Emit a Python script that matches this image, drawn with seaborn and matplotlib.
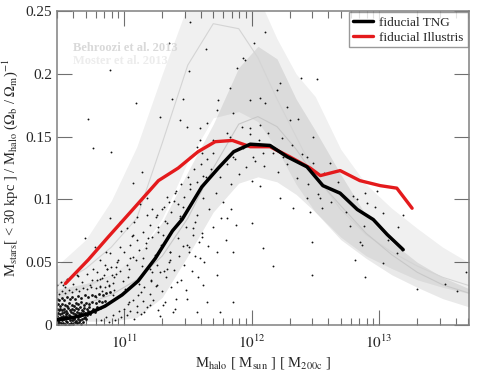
import numpy as np
import pandas as pd
import matplotlib
matplotlib.use("Agg")
import matplotlib.pyplot as plt
import seaborn as sns
from matplotlib.ticker import FixedLocator, LogLocator, NullFormatter

# ---------------- data ----------------
# fiducial TNG median (log10 M_halo, ratio)
tng_logm = [10.46, 10.60, 10.72, 10.85, 10.985, 11.11, 11.245, 11.38, 11.455, 11.61,
            11.74, 11.86, 11.99, 12.145, 12.28, 12.435, 12.56, 12.695, 12.83, 12.955,
            13.065, 13.19]
tng_ratio = [0.004, 0.006, 0.009, 0.015, 0.024, 0.035, 0.053, 0.075, 0.084, 0.110,
             0.125, 0.138, 0.144, 0.143, 0.134, 0.126, 0.111, 0.105, 0.092, 0.084,
             0.072, 0.060]

# fiducial Illustris median
ill_logm = [10.54, 10.72, 10.875, 11.06, 11.27, 11.425, 11.58, 11.715, 11.85, 11.99,
            12.145, 12.30, 12.46, 12.54, 12.695, 12.85, 13.01, 13.14, 13.26]
ill_ratio = [0.033, 0.052, 0.070, 0.091, 0.115, 0.125, 0.138, 0.146, 0.147, 0.142,
             0.142, 0.134, 0.125, 0.119, 0.123, 0.115, 0.111, 0.109, 0.093]

# abundance-matching bands
band_logm = [10.45, 10.7, 10.9, 11.1, 11.3, 11.5, 11.7, 11.9, 12.05, 12.2, 12.35,
             12.5, 12.7, 12.9, 13.1, 13.3, 13.5, 13.75]
moster_hi = [0.045, 0.068, 0.099, 0.142, 0.200, 0.255, 0.290, 0.285, 0.262, 0.228, 0.200,
             0.182, 0.140, 0.112, 0.093, 0.077, 0.062, 0.047]
moster_mid = [0.030, 0.045, 0.062, 0.085, 0.145, 0.207, 0.240, 0.236, 0.213, 0.180, 0.150,
              0.120, 0.092, 0.072, 0.058, 0.047, 0.038, 0.030]
moster_lo = [0.020, 0.030, 0.040, 0.055, 0.085, 0.130, 0.165, 0.170, 0.162, 0.140, 0.112,
             0.090, 0.070, 0.055, 0.045, 0.036, 0.030, 0.024]
behroozi_hi = [0.028, 0.033, 0.040, 0.055, 0.082, 0.122, 0.160, 0.205, 0.222, 0.212, 0.180,
               0.155, 0.120, 0.087, 0.066, 0.050, 0.038, 0.027]
behroozi_mid = [0.012, 0.017, 0.024, 0.036, 0.055, 0.085, 0.125, 0.160, 0.166, 0.158, 0.140,
                0.118, 0.095, 0.073, 0.056, 0.042, 0.032, 0.024]
behroozi_lo = [0.003, 0.003, 0.003, 0.006, 0.022, 0.055, 0.090, 0.113, 0.118, 0.114, 0.104,
               0.090, 0.068, 0.053, 0.040, 0.030, 0.021, 0.013]

# individual galaxies: sparse outliers
gal_logm = [11.518, 11.644, 11.353, 10.891, 11.51, 11.095, 11.377, 11.463, 10.718, 10.757,
            10.899, 11.283, 11.142, 11.071, 11.44, 11.495, 11.597, 11.651, 11.573, 11.612,
            11.698, 11.73, 11.738, 11.832, 11.855, 11.808, 11.887, 11.597, 11.518, 11.698,
            11.832, 11.855, 12.107, 12.02, 11.934, 11.95, 12.389, 12.514, 12.224, 12.2,
            12.067, 12.107, 11.989, 12.279, 12.302, 12.365, 12.483, 11.989, 12.067, 11.926,
            12.091, 12.248, 12.436, 12.616, 12.012, 12.067, 12.004, 12.004, 12.091, 12.169,
            12.475, 12.475, 12.224, 12.326, 12.436, 12.538, 12.554, 12.459, 12.773, 12.852,
            12.867, 12.812, 12.891, 13.032, 13.142, 13.181, 13.189, 12.985, 12.891, 12.828,
            12.906, 13.299, 13.518, 13.612, 13.683, 13.032,
            10.695, 10.773, 10.632, 10.553, 10.522, 10.891, 10.969, 11.024, 11.071, 11.126,
            11.181, 11.259, 11.306, 11.361, 11.44, 11.542, 11.495, 11.597, 11.62, 11.73,
            11.808, 11.855, 11.651, 11.573, 11.753, 11.855, 11.385, 11.306, 11.204, 11.102,
            11.495, 11.416, 11.259, 11.338, 11.204, 11.149, 11.047, 10.946, 10.867, 10.812,
            10.734]
gal_ratio = [0.241, 0.220, 0.225, 0.203, 0.202, 0.177, 0.180, 0.180, 0.164, 0.141,
             0.138, 0.166, 0.122, 0.113, 0.163, 0.158, 0.157, 0.161, 0.142, 0.137,
             0.137, 0.171, 0.179, 0.189, 0.169, 0.153, 0.205, 0.147, 0.134, 0.147,
             0.150, 0.134, 0.233, 0.225, 0.213, 0.211, 0.197, 0.196, 0.193, 0.187,
             0.181, 0.177, 0.179, 0.174, 0.163, 0.164, 0.150, 0.157, 0.159, 0.158,
             0.137, 0.134, 0.134, 0.129, 0.134, 0.111, 0.115, 0.081, 0.061, 0.047,
             0.066, 0.040, 0.101, 0.093, 0.101, 0.101, 0.093, 0.090, 0.079, 0.066,
             0.064, 0.052, 0.038, 0.049, 0.057, 0.060, 0.088, 0.107, 0.105, 0.100,
             0.097, 0.029, 0.033, 0.027, 0.042, 0.089,
             0.069, 0.062, 0.040, 0.037, 0.032, 0.085, 0.082, 0.077, 0.072, 0.096,
             0.101, 0.088, 0.072, 0.058, 0.085, 0.077, 0.064, 0.053, 0.032, 0.040,
             0.085, 0.058, 0.018, 0.010, 0.010, 0.018, 0.010, 0.016, 0.016, 0.010,
             0.021, 0.034, 0.032, 0.045, 0.045, 0.053, 0.053, 0.050, 0.045, 0.037,
             0.032]

# individual galaxies: crowded low-mass blob
blob_logm = [
    10.462, 10.478, 10.493, 10.507, 10.521, 10.538, 10.551, 10.566, 10.583, 10.597, 10.612, 10.629, 10.644, 10.659, 10.676,
    10.468, 10.485, 10.499, 10.514, 10.529, 10.544, 10.559, 10.574, 10.590, 10.604, 10.621, 10.636, 10.651, 10.668, 10.684, 10.701,
    10.463, 10.474, 10.489, 10.503, 10.518, 10.533, 10.548, 10.563, 10.579, 10.594, 10.609, 10.625, 10.640, 10.656, 10.671, 10.690, 10.712, 10.735,
    10.466, 10.482, 10.496, 10.511, 10.526, 10.541, 10.556, 10.571, 10.586, 10.601, 10.617, 10.632, 10.648, 10.663, 10.680, 10.697, 10.720, 10.748, 10.772,
    10.471, 10.486, 10.501, 10.516, 10.531, 10.546, 10.561, 10.577, 10.592, 10.607, 10.622, 10.638, 10.654, 10.670, 10.688, 10.706, 10.729, 10.760, 10.785, 10.810,
    10.464, 10.481, 10.499, 10.517, 10.536, 10.553, 10.570, 10.588, 10.605, 10.623, 10.641, 10.660, 10.682, 10.703, 10.727, 10.752, 10.778, 10.800, 10.825, 10.850,
    10.473, 10.492, 10.512, 10.532, 10.552, 10.573, 10.595, 10.617, 10.640, 10.665, 10.690, 10.718, 10.745, 10.775, 10.805, 10.835, 10.862, 10.890,
]
blob_ratio = [
    0.0015, 0.0008, 0.0022, 0.0012, 0.0018, 0.0006, 0.0025, 0.0011, 0.0019, 0.0009, 0.0021, 0.0014, 0.0027, 0.0010, 0.0023,
    0.0042, 0.0035, 0.0049, 0.0038, 0.0045, 0.0031, 0.0052, 0.0040, 0.0036, 0.0047, 0.0033, 0.0050, 0.0039, 0.0044, 0.0058, 0.0046,
    0.0063, 0.0071, 0.0058, 0.0067, 0.0074, 0.0061, 0.0069, 0.0056, 0.0072, 0.0065, 0.0059, 0.0076, 0.0062, 0.0070, 0.0081, 0.0066, 0.0078, 0.0085,
    0.0091, 0.0098, 0.0086, 0.0094, 0.0102, 0.0088, 0.0096, 0.0083, 0.0101, 0.0092, 0.0087, 0.0105, 0.0093, 0.0099, 0.0110, 0.0095, 0.0108, 0.0115, 0.0102,
    0.0124, 0.0117, 0.0131, 0.0120, 0.0127, 0.0114, 0.0135, 0.0122, 0.0129, 0.0118, 0.0133, 0.0125, 0.0140, 0.0121, 0.0136, 0.0128, 0.0143, 0.0131, 0.0147, 0.0139,
    0.0158, 0.0166, 0.0152, 0.0171, 0.0160, 0.0149, 0.0175, 0.0163, 0.0155, 0.0178, 0.0165, 0.0181, 0.0162, 0.0177, 0.0169, 0.0185, 0.0172, 0.0190, 0.0180, 0.0195,
    0.0205, 0.0197, 0.0213, 0.0201, 0.0221, 0.0208, 0.0226, 0.0210, 0.0230, 0.0215, 0.0236, 0.0222, 0.0241, 0.0229, 0.0248, 0.0235, 0.0255, 0.0262,
]

# individual galaxies: main locus
cloud_logm = [
    10.466, 10.488, 10.513, 10.540, 10.566, 10.592, 10.620, 10.650, 10.680, 10.712, 10.744, 10.780, 10.815, 10.850, 10.880, 10.910,
    10.476, 10.505, 10.535, 10.567, 10.600, 10.635, 10.672, 10.708, 10.750, 10.790, 10.830, 10.870, 10.905, 10.940,
    10.82, 10.86, 10.88, 10.91, 10.93, 10.96, 10.98, 11.00, 11.02, 11.03, 11.05, 11.07, 11.08, 11.10, 11.11, 11.13, 11.15,
    11.16, 11.18, 11.20, 11.21, 11.23, 11.25, 11.27, 11.28, 11.30, 11.32, 11.33, 11.35, 11.37, 11.39, 11.41, 11.43, 11.45,
    11.47, 11.49, 11.51, 11.53, 11.56, 11.58, 11.61, 11.63, 11.66, 11.70, 11.73, 11.76, 11.80, 11.84, 11.88,
    10.81, 10.84, 10.87, 10.90, 10.92, 10.95, 10.97, 11.00, 11.02, 11.05, 11.07, 11.10, 11.12, 11.15, 11.17, 11.20, 11.22,
    11.25, 11.27, 11.30, 11.32, 11.35, 11.37, 11.40, 11.42, 11.45, 11.47, 11.50, 11.52, 11.55, 11.57, 11.60, 11.62, 11.65, 11.68,
    11.72, 11.75, 11.78, 11.81, 11.84, 11.87, 11.90, 11.93, 11.96, 11.99, 12.03, 12.06, 12.10, 12.13, 12.17, 12.21, 12.24,
    12.28, 12.32, 12.36, 12.40, 12.44, 12.48, 12.52, 12.57, 12.62, 12.68, 12.74, 12.80, 12.88, 12.97, 13.07, 13.15,
    10.78, 10.83, 10.79, 10.88, 10.85, 10.91, 10.94, 10.89, 10.99, 10.97, 11.01, 11.04, 11.06, 11.03, 11.09, 11.12, 11.08,
    11.14, 11.17, 11.13, 11.19, 11.22, 11.18, 11.24, 11.27, 11.21, 11.29, 11.31, 11.26, 11.34, 11.36, 11.31, 11.39, 11.42,
    11.36, 11.44, 11.46, 11.41, 11.49, 11.51, 11.46, 11.54, 11.57, 11.52, 11.59, 11.62, 11.56, 11.64, 11.67, 11.61,
    10.76, 10.81, 10.86, 10.92, 10.98, 11.04, 11.10, 11.16, 11.22, 11.28, 11.34, 11.40,
]
cloud_ratio = [
    0.0262, 0.0248, 0.0270, 0.0255, 0.0281, 0.0266, 0.0290, 0.0274, 0.0296, 0.0283, 0.0305, 0.0292, 0.0314, 0.0300, 0.0322, 0.0335,
    0.0318, 0.0345, 0.0302, 0.0365, 0.0330, 0.0388, 0.0342, 0.0405, 0.0358, 0.0420, 0.0372, 0.0445, 0.0395, 0.0465,
    0.004, 0.006, 0.002, 0.008, 0.004, 0.011, 0.006, 0.013, 0.008, 0.017, 0.011, 0.020, 0.005, 0.015, 0.024, 0.009, 0.019,
    0.030, 0.014, 0.025, 0.036, 0.020, 0.031, 0.012, 0.042, 0.027, 0.018, 0.038, 0.050, 0.030, 0.044, 0.021, 0.055, 0.036,
    0.048, 0.028, 0.062, 0.043, 0.055, 0.038, 0.070, 0.050, 0.063, 0.078, 0.058, 0.085, 0.068, 0.092, 0.080,
    0.030, 0.040, 0.035, 0.046, 0.038, 0.052, 0.043, 0.058, 0.048, 0.064, 0.054, 0.068, 0.060, 0.074, 0.065, 0.080, 0.070,
    0.086, 0.078, 0.092, 0.083, 0.098, 0.090, 0.105, 0.096, 0.112, 0.102, 0.118, 0.108, 0.124, 0.114, 0.128, 0.119, 0.132, 0.124,
    0.105, 0.118, 0.098, 0.128, 0.112, 0.132, 0.120, 0.141, 0.126, 0.152, 0.131, 0.147, 0.127, 0.153, 0.137, 0.122, 0.149,
    0.128, 0.143, 0.117, 0.136, 0.112, 0.129, 0.104, 0.121, 0.098, 0.114, 0.090, 0.103, 0.079, 0.094, 0.068, 0.078,
    0.022, 0.027, 0.036, 0.031, 0.048, 0.024, 0.041, 0.057, 0.035, 0.062, 0.029, 0.045, 0.071, 0.038, 0.052, 0.033, 0.082,
    0.047, 0.061, 0.026, 0.069, 0.042, 0.088, 0.056, 0.074, 0.035, 0.064, 0.094, 0.048, 0.081, 0.058, 0.043, 0.099, 0.069,
    0.052, 0.087, 0.063, 0.107, 0.078, 0.058, 0.094, 0.072, 0.088, 0.112, 0.066, 0.101, 0.082, 0.118, 0.092, 0.073,
    0.045, 0.052, 0.058, 0.028, 0.075, 0.018, 0.086, 0.010, 0.092, 0.007, 0.102, 0.013,
]

y_ticks = [0, 0.05, 0.1, 0.15, 0.2, 0.25]
y_ticklabels = ["0", "0.05", "0.1", "0.15", "0.2", "0.25"]
x_ticks_exp = [11, 12, 13]

# ---------------- style ----------------
sns.set_style("ticks")
plt.rcParams["font.family"] = ["Liberation Serif", "DejaVu Serif"]
plt.rcParams["mathtext.fontset"] = "stix"
plt.rcParams["axes.edgecolor"] = "#808080"
plt.rcParams["axes.linewidth"] = 1.1

fig = plt.figure(figsize=(4.8, 3.71), dpi=100)
ax = fig.add_axes([0.119, 0.124, 0.858, 0.846])
ax.set_xscale("log")

bm = 10 ** np.array(band_logm)
ax.fill_between(bm, moster_lo, moster_hi, color="black", alpha=0.06, lw=0, zorder=1)
ax.fill_between(bm, behroozi_lo, behroozi_hi, color="black", alpha=0.085, lw=0, zorder=1)
ax.plot(bm, moster_mid, color="#d4d4d4", lw=0.8, zorder=1.5)
ax.plot(bm, behroozi_mid, color="#c8c8c8", lw=0.8, zorder=1.5)

gal = pd.DataFrame({"mhalo": 10 ** np.array(gal_logm + cloud_logm),
                    "ratio": gal_ratio + cloud_ratio})
sns.scatterplot(data=gal, x="mhalo", y="ratio", ax=ax, color="#111111", s=1.8,
                linewidth=0, marker="o", zorder=2, legend=False)
blob = pd.DataFrame({"mhalo": 10 ** np.array(blob_logm), "ratio": blob_ratio})
sns.scatterplot(data=blob, x="mhalo", y="ratio", ax=ax, color="#111111", s=4.0,
                linewidth=0, marker="o", zorder=2, legend=False)

tng = pd.DataFrame({"mhalo": 10 ** np.array(tng_logm), "ratio": tng_ratio})
ill = pd.DataFrame({"mhalo": 10 ** np.array(ill_logm), "ratio": ill_ratio})
sns.lineplot(data=tng, x="mhalo", y="ratio", ax=ax, color="black", lw=2.5,
             sort=False, estimator=None, label="fiducial TNG", zorder=4)
sns.lineplot(data=ill, x="mhalo", y="ratio", ax=ax, color="#e41a1c", lw=2.4,
             sort=False, estimator=None, label="fiducial Illustris", zorder=3)

ax.set_xlim(10 ** 10.475, 10 ** 13.706)
ax.set_ylim(0, 0.25)

ax.yaxis.set_major_locator(FixedLocator(y_ticks))
ax.set_yticklabels(y_ticklabels)
ax.xaxis.set_major_locator(FixedLocator([10.0 ** e for e in x_ticks_exp]))
ax.set_xticklabels([r"$10^{%d}$" % e for e in x_ticks_exp])
ax.xaxis.set_minor_locator(LogLocator(base=10, subs=np.arange(2, 10)))
ax.xaxis.set_minor_formatter(NullFormatter())

ax.tick_params(which="both", direction="in", top=True, right=True, color="#707070",
               labelsize=11)
ax.tick_params(axis="y", pad=3.5)
ax.tick_params(axis="x", pad=6)
ax.tick_params(which="major", length=11, width=0.8)
ax.tick_params(which="minor", length=5, width=0.8)
ax.tick_params(axis="y", which="minor", left=False, right=False)

ax.set_xlabel(r"M$_{\rm halo}$ [ M$_{\rm sun}$ ] [ M$_{\rm 200c}$ ]", fontsize=10.5, labelpad=3)
ax.set_ylabel(r"M$_{\rm stars}$[ < 30 kpc ] / M$_{\rm halo}$ ($\Omega_{\rm b}$ / $\Omega_{\rm m}$)$^{-1}$",
              fontsize=10.5, labelpad=4)

ax.text(0.039, 0.882, "Behroozi et al. 2013", transform=ax.transAxes, color="#d9d9d9",
        fontsize=9, fontweight="bold", va="center")
ax.text(0.039, 0.840, "Moster et al. 2013", transform=ax.transAxes, color="#ececec",
        fontsize=9, fontweight="bold", va="center")

leg = ax.legend(loc="upper right", fontsize=9.5, frameon=True, fancybox=False,
                edgecolor="#808080", handlelength=1.5, borderpad=0.3,
                labelspacing=0.2, handletextpad=0.5, borderaxespad=0.1)
leg.get_frame().set_linewidth(1.0)

fig.savefig("out.png", dpi=100)
